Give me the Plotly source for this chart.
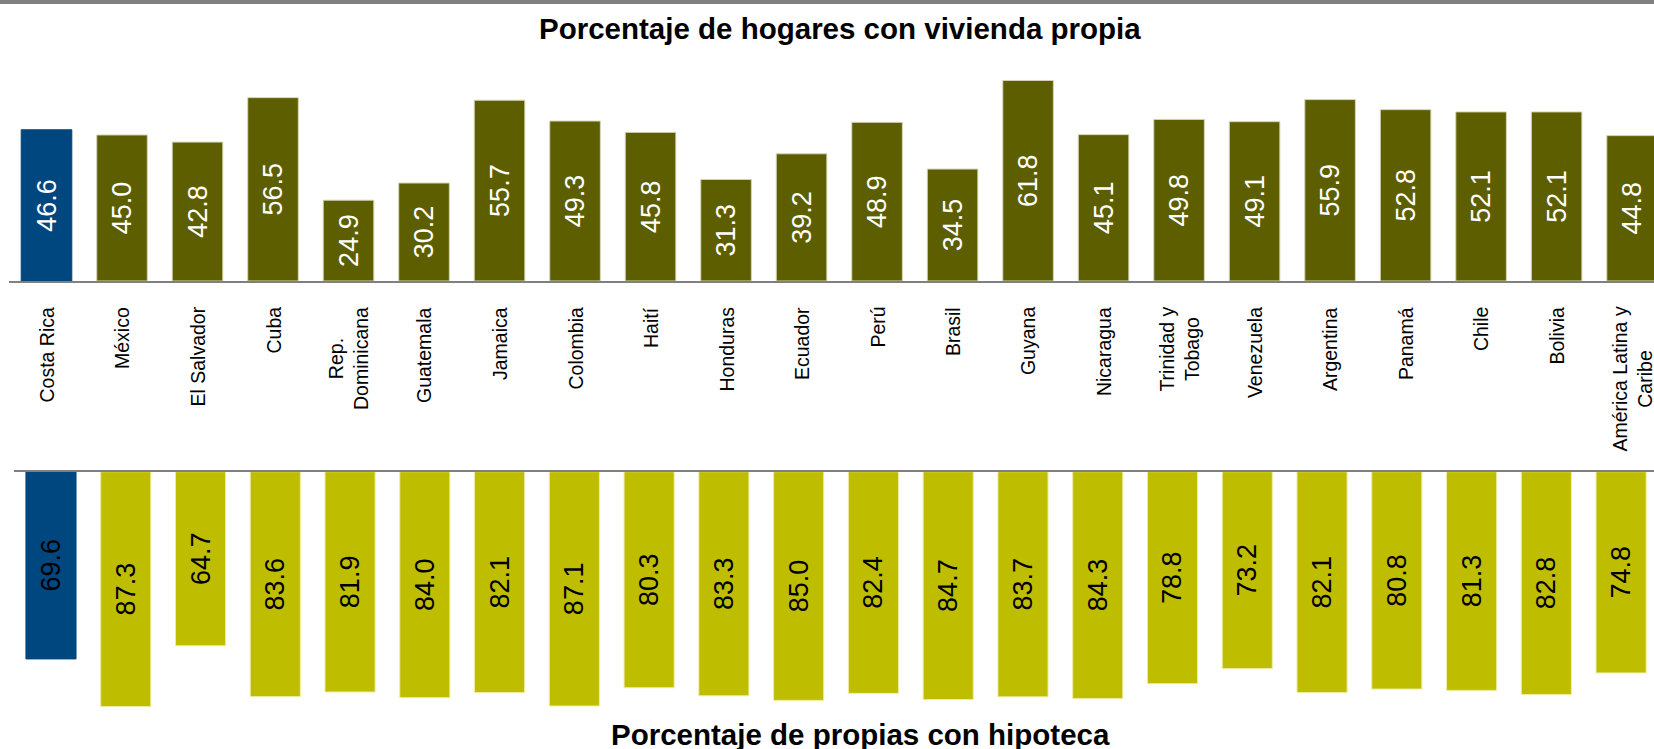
import plotly.graph_objects as go

# --------------------------------------------------------
# Data
paises = ["Costa Rica", "México", "El Salvador", "Cuba", "Rep.<br>Dominicana", "Guatemala",
          "Jamaica", "Colombia", "Haití", "Honduras", "Ecuador", "Perú", "Brasil", "Guyana",
          "Nicaragua", "Trinidad y<br>Tobago", "Venezuela", "Argentina", "Panamá", "Chile",
          "Bolivia", "América Latina y<br>Caribe"]

vivienda_propia = [46.6, 45.0, 42.8, 56.5, 24.9, 30.2, 55.7, 49.3, 45.8, 31.3, 39.2,
                   48.9, 34.5, 61.8, 45.1, 49.8, 49.1, 55.9, 52.8, 52.1, 52.1, 44.8]

con_hipoteca = [69.6, 87.3, 64.7, 83.6, 81.9, 84.0, 82.1, 87.1, 80.3, 83.3, 85.0,
                82.4, 84.7, 83.7, 84.3, 78.8, 73.2, 82.1, 80.8, 81.3, 82.8, 74.8]

titulo_arriba = "Porcentaje de hogares con vivienda propia"
titulo_abajo = "Porcentaje de propias con hipoteca"

# Costa Rica highlighted in blue
azul = "#00467F"
n_resto = len(paises) - 1
colores_arriba = [azul] + ["#5C5E00"] * n_resto
borde_arriba = [azul] + ["#D6D6B8"] * n_resto
colores_abajo = [azul] + ["#BFBD00"] * n_resto
borde_abajo = [azul] + ["#EDEDA0"] * n_resto

W, H = 1654, 749
fuente = "Liberation Sans, Arial"

fig = go.Figure()

# Top panel: bars going up
fig.add_trace(go.Bar(
    x=paises,
    y=vivienda_propia,
    xaxis="x", yaxis="y",
    marker=dict(color=colores_arriba, line=dict(color=borde_arriba, width=1)),
    texttemplate="%{y:.1f}",
    textposition="inside",
    insidetextanchor="middle",
    textangle=-90,
    constraintext="none",
    textfont=dict(family=fuente, size=27, color="white"),
    hoverinfo="skip",
))

# Bottom panel: bars hanging down (reversed axis)
fig.add_trace(go.Bar(
    x=paises,
    y=con_hipoteca,
    xaxis="x2", yaxis="y2",
    marker=dict(color=colores_abajo, line=dict(color=borde_abajo, width=1)),
    texttemplate="%{y:.1f}",
    textposition="inside",
    insidetextanchor="middle",
    textangle=-90,
    constraintext="none",
    textfont=dict(family=fuente, size=27, color="black"),
    hoverinfo="skip",
))

# Country labels between the panels (centered lines, top aligned)
etiquetas = [
    dict(text=p, x=p, y=1 - 305 / H, xref="x", yref="paper",
         showarrow=False, textangle=-90, align="center",
         xanchor="center", yanchor="top",
         font=dict(family=fuente, size=19.5, color="black"))
    for p in paises
]

titulos = [
    dict(text=f"<b>{titulo_arriba}</b>", x=840 / W, y=1 - 28.5 / H, xref="paper", yref="paper",
         showarrow=False, xanchor="center", yanchor="middle",
         font=dict(family=fuente, size=29.5, color="black")),
    dict(text=f"<b>{titulo_abajo}</b>", x=860 / W, y=1 - 734 / H, xref="paper", yref="paper",
         showarrow=False, xanchor="center", yanchor="middle",
         font=dict(family=fuente, size=29.5, color="black")),
]

fig.update_layout(
    width=W,
    height=H,
    margin=dict(l=0, r=0, t=0, b=0),
    paper_bgcolor="white",
    plot_bgcolor="white",
    showlegend=False,
    bargap=0.33,
    xaxis=dict(
        domain=[8.75 / W, 1],
        range=[-0.5, 21.29],
        anchor="y",
        showline=True, linecolor="#808080", linewidth=2,
        showgrid=False, zeroline=False,
        showticklabels=False,
        ticks="",
    ),
    yaxis=dict(
        domain=[1 - 281 / H, 1 - 60 / H],
        range=[0, 68.1],
        anchor="x",
        visible=False,
    ),
    xaxis2=dict(
        domain=[13.6 / W, 1],
        range=[-0.5, 21.44],
        anchor="y2",
        side="top",
        showline=True, linecolor="#808080", linewidth=2,
        showgrid=False, zeroline=False,
        showticklabels=False,
        ticks="",
    ),
    yaxis2=dict(
        domain=[1 - 720 / H, 1 - 471.7 / H],
        range=[92.3, 0],
        anchor="x2",
        visible=False,
    ),
    shapes=[
        # gray band across the top
        dict(type="rect", xref="paper", yref="paper", x0=0, x1=1, y0=1 - 4 / H, y1=1,
             fillcolor="#808080", line=dict(width=0), layer="above"),
    ],
    annotations=titulos + etiquetas,
)

fig.write_html("out.html",
               config={"displayModeBar": False},
               post_script="document.body.style.margin='0';document.body.style.overflow='hidden';")
